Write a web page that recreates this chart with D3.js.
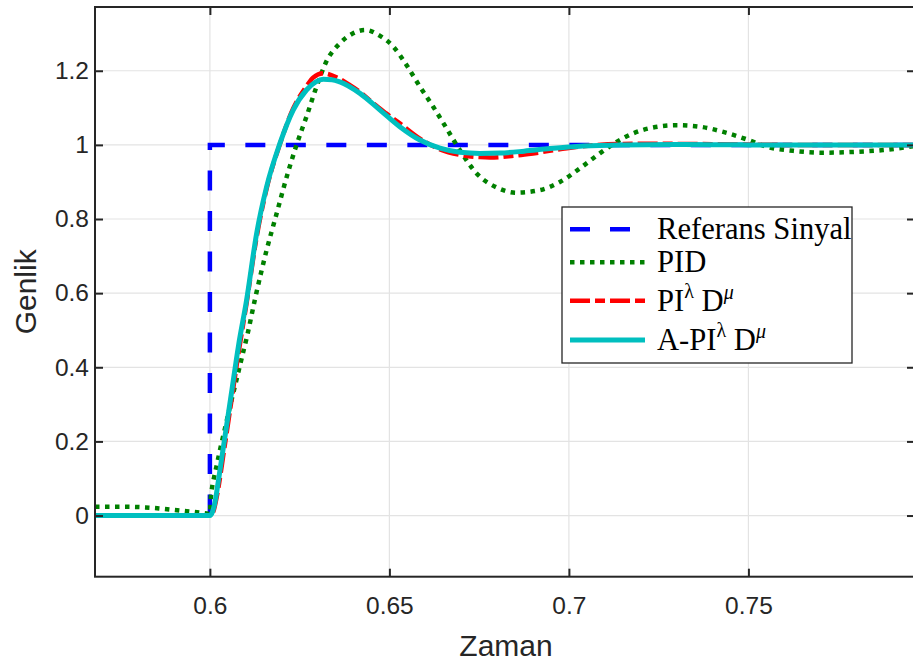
<!DOCTYPE html>
<html>
<head>
<meta charset="utf-8">
<script src="https://cdn.jsdelivr.net/npm/d3@7"></script>
<style>
  html, body { margin: 0; padding: 0; background: #fff; }
  svg { display: block; }
  .tick text { font-family: "Liberation Sans", Arial, sans-serif; fill: #262626; }
</style>
</head>
<body>
<svg id="chart" width="913" height="666"></svg>
<script>
// Tick positions and labels
const xTicks = [0.6, 0.65, 0.7, 0.75];
const xTickLabels = ["0.6", "0.65", "0.7", "0.75"];
const yTicks = [0, 0.2, 0.4, 0.6, 0.8, 1.0, 1.2];
const yTickLabels = ["0", "0.2", "0.4", "0.6", "0.8", "1", "1.2"];

// Step reference: 0 before t = 0.6, 1 after
const refTime = [0.568, 0.6, 0.6, 0.7964];
const refValue = [0, 0, 1, 1];

// PID response
const pidTime = [0.568, 0.575, 0.582, 0.586, 0.592, 0.597, 0.5995, 0.6, 0.6002, 0.6006, 0.6012, 0.602, 0.603, 0.6042, 0.6055, 0.607, 0.609, 0.6105, 0.6125, 0.6158, 0.6186, 0.6214, 0.6241, 0.6269, 0.6297, 0.6325, 0.6362, 0.6399, 0.6432, 0.6474, 0.6511, 0.6548, 0.6585, 0.6622, 0.6659, 0.6696, 0.6743, 0.6799, 0.6854, 0.6919, 0.6975, 0.7031, 0.7086, 0.7133, 0.7179, 0.7235, 0.73, 0.7365, 0.743, 0.7495, 0.7551, 0.7625, 0.7708, 0.7791, 0.7875, 0.7964];
const pidValue = [0.024, 0.024, 0.022, 0.019, 0.013, 0.008, 0.005, 0.004, 0.04, 0.075, 0.105, 0.14, 0.185, 0.235, 0.29, 0.35, 0.43, 0.49, 0.581, 0.716, 0.815, 0.914, 0.999, 1.076, 1.157, 1.226, 1.274, 1.301, 1.31, 1.294, 1.265, 1.215, 1.157, 1.103, 1.045, 0.986, 0.923, 0.885, 0.871, 0.878, 0.9, 0.937, 0.977, 1.008, 1.031, 1.047, 1.053, 1.049, 1.035, 1.015, 0.995, 0.984, 0.979, 0.981, 0.986, 0.997];

// Fractional-order PI^λ D^μ response
const fopidTime = [0.568, 0.59, 0.5998, 0.6, 0.601, 0.602, 0.604, 0.606, 0.608, 0.6102, 0.613, 0.6158, 0.6195, 0.6232, 0.6269, 0.6288, 0.6316, 0.6353, 0.639, 0.6423, 0.6455, 0.6491, 0.6529, 0.6585, 0.6641, 0.6696, 0.6752, 0.678, 0.684, 0.69, 0.6994, 0.708, 0.72, 0.74, 0.76, 0.7964];
const fopidValue = [0, 0, 0, 0, 0.012, 0.055, 0.18, 0.31, 0.44, 0.572, 0.75, 0.882, 1.002, 1.098, 1.158, 1.182, 1.193, 1.182, 1.161, 1.139, 1.112, 1.085, 1.058, 1.017, 0.988, 0.973, 0.967, 0.966, 0.97, 0.977, 0.991, 1.0, 1.003, 1.002, 1.0, 1.0];

// Adaptive A-PI^λ D^μ response
const afopidTime = [0.568, 0.59, 0.5998, 0.6, 0.6008, 0.6015, 0.602, 0.603, 0.604, 0.606, 0.608, 0.6102, 0.613, 0.6158, 0.6195, 0.6232, 0.6269, 0.6295, 0.6316, 0.634, 0.6362, 0.6418, 0.6474, 0.6529, 0.6585, 0.6641, 0.6696, 0.6752, 0.6808, 0.6875, 0.6947, 0.7039, 0.715, 0.73, 0.75, 0.7964];
const afopidValue = [0, 0, 0, 0, 0.012, 0.04, 0.07, 0.135, 0.2, 0.33, 0.46, 0.58, 0.76, 0.887, 1.004, 1.094, 1.148, 1.17, 1.177, 1.176, 1.17, 1.139, 1.094, 1.049, 1.013, 0.991, 0.98, 0.977, 0.978, 0.983, 0.99, 0.997, 1.0, 1.001, 1.0, 1.0];

const legendLabels = ["Referans Sinyal", "PID", "PI", "A-PI"];

const svg = d3.select("#chart");
const plotLeft = 95, plotRight = 915, plotTop = 7, plotBottom = 576.7;

const x = d3.scaleLinear().domain([0.568, 0.7964]).range([plotLeft, plotRight]);
const y = d3.scaleLinear().domain([-0.165, 1.372]).range([plotBottom, plotTop]);

const axisColor = "#262626";

// Grid
const grid = svg.append("g");
grid.selectAll(".gx").data(xTicks).join("line")
  .attr("x1", d => x(d)).attr("x2", d => x(d))
  .attr("y1", plotTop).attr("y2", plotBottom)
  .attr("stroke", "#e3e3e3").attr("stroke-width", 1.2);
grid.selectAll(".gy").data(yTicks).join("line")
  .attr("x1", plotLeft).attr("x2", plotRight)
  .attr("y1", d => y(d)).attr("y2", d => y(d))
  .attr("stroke", "#e3e3e3").attr("stroke-width", 1.2);

// Data lines, clipped to the plot box
svg.append("clipPath").attr("id", "plotClip")
  .append("rect").attr("x", plotLeft).attr("y", plotTop)
  .attr("width", plotRight - plotLeft).attr("height", plotBottom - plotTop);

const plot = svg.append("g").attr("clip-path", "url(#plotClip)");

const zip = (ts, vs) => ts.map((t, i) => [t, vs[i]]);
const smooth = d3.line().x(d => x(d[0])).y(d => y(d[1])).curve(d3.curveMonotoneX);
const straight = d3.line().x(d => x(d[0])).y(d => y(d[1]));

plot.append("path").attr("d", straight(zip(refTime, refValue)))
  .attr("fill", "none").attr("stroke", "#0000ff").attr("stroke-width", 4.5)
  .attr("stroke-dasharray", "20,20.5").attr("stroke-dashoffset", 5.5);

plot.append("path").attr("d", smooth(zip(pidTime, pidValue)))
  .attr("fill", "none").attr("stroke", "#008000").attr("stroke-width", 4.5)
  .attr("stroke-dasharray", "4.5,5.5");

plot.append("path").attr("d", smooth(zip(fopidTime, fopidValue)))
  .attr("fill", "none").attr("stroke", "#ff0000").attr("stroke-width", 4.5)
  .attr("stroke-dasharray", "20,5,10,5");

plot.append("path").attr("d", smooth(zip(afopidTime, afopidValue)))
  .attr("fill", "none").attr("stroke", "#00bfbf").attr("stroke-width", 5);

// Axes with inward ticks on all four sides
const tickFont = 24.5;
const xAxis = svg.append("g").attr("transform", `translate(0,${plotBottom})`)
  .call(d3.axisBottom(x).tickValues(xTicks).tickFormat((d, i) => xTickLabels[i])
    .tickSizeInner(-8).tickSizeOuter(0).tickPadding(20));
const yAxis = svg.append("g").attr("transform", `translate(${plotLeft},0)`)
  .call(d3.axisLeft(y).tickValues(yTicks).tickFormat((d, i) => yTickLabels[i])
    .tickSizeInner(-8).tickSizeOuter(0).tickPadding(6));
const xTop = svg.append("g").attr("transform", `translate(0,${plotTop})`)
  .call(d3.axisTop(x).tickValues(xTicks).tickFormat("").tickSizeInner(-8).tickSizeOuter(0));
const yRight = svg.append("g").attr("transform", `translate(${plotRight},0)`)
  .call(d3.axisRight(y).tickValues(yTicks).tickFormat("").tickSizeInner(-8).tickSizeOuter(0));

[xAxis, yAxis, xTop, yRight].forEach(g => {
  g.select(".domain").remove();
  g.selectAll(".tick line").attr("stroke", axisColor).attr("stroke-width", 2);
  g.selectAll(".tick text").attr("font-size", tickFont).attr("fill", axisColor);
});
xAxis.selectAll(".tick text").attr("dy", "0.71em").attr("y", 20);
yAxis.selectAll(".tick text").attr("x", -6);

// Box
svg.append("rect").attr("x", plotLeft).attr("y", plotTop)
  .attr("width", plotRight - plotLeft).attr("height", plotBottom - plotTop)
  .attr("fill", "none").attr("stroke", axisColor).attr("stroke-width", 2);

// Axis titles
svg.append("text").attr("x", (plotLeft + 913) / 2 + 2).attr("y", 656)
  .attr("text-anchor", "middle").attr("font-family", "Liberation Sans, Arial, sans-serif")
  .attr("font-size", 30).attr("fill", axisColor).text("Zaman");
svg.append("text").attr("transform", `translate(36,${(plotTop + plotBottom) / 2}) rotate(-90)`)
  .attr("text-anchor", "middle").attr("font-family", "Liberation Sans, Arial, sans-serif")
  .attr("font-size", 30).attr("fill", axisColor).text("Genlik");

// Legend
const lg = svg.append("g");
lg.append("rect").attr("x", 562).attr("y", 207).attr("width", 290).attr("height", 156)
  .attr("fill", "#fff").attr("stroke", axisColor).attr("stroke-width", 1.3);

const legendRows = [
  { y: 229.3, color: "#0000ff", w: 4.5, dash: "20,20" },
  { y: 262.3, color: "#008000", w: 4.5, dash: "4.5,5.5" },
  { y: 300.7, color: "#ff0000", w: 4.5, dash: "20,5,10,5" },
  { y: 340, color: "#00bfbf", w: 5, dash: null }
];
legendRows.forEach((r, i) => {
  lg.append("line").attr("x1", 570).attr("x2", 645).attr("y1", r.y).attr("y2", r.y)
    .attr("stroke", r.color).attr("stroke-width", r.w)
    .attr("stroke-dasharray", r.dash);
  const t = lg.append("text").attr("x", 657).attr("y", r.y + 10)
    .attr("font-family", "Liberation Serif, Times New Roman, serif")
    .attr("font-size", 30.6).attr("fill", "#000");
  t.append("tspan").text(legendLabels[i]);
  if (i >= 2) {
    t.append("tspan").attr("font-size", 20).attr("dy", -13).attr("dx", 0).text("λ");
    t.append("tspan").attr("dy", 13).attr("dx", 0).text(" D");
    t.append("tspan").attr("font-size", 20).attr("font-style", "italic").attr("dy", -12).attr("dx", 0).text("μ");
  }
});
</script>
</body>
</html>
